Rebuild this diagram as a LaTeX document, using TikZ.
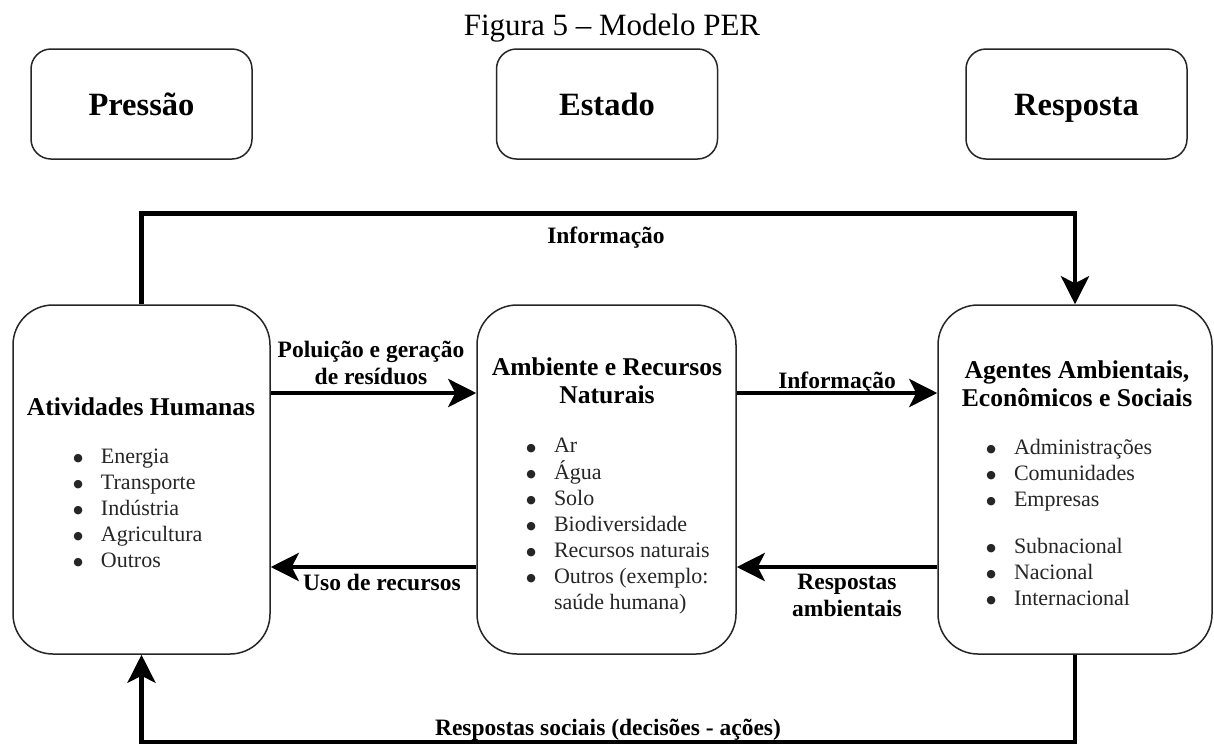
\documentclass[tikz,border=0pt]{standalone}
\usepackage{fontspec}
\setmainfont{Liberation Serif}
\newfontfamily\dejavu{DejaVu Sans}
\usetikzlibrary{arrows.meta}
\newcommand\myfs[2]{\fontsize{#1}{#2}\selectfont}
\newcommand\mybul{\raisebox{0.9pt}{\dejavu\fontsize{5.5}{6}\selectfont ●}}
\begin{document}
\begin{tikzpicture}[x=0.5pt,y=-0.5pt,
  figtitle/.style={font=\myfs{15.5}{18}, inner sep=0pt},
  topbox/.style={draw=black!85, line width=0.75pt, rounded corners=10pt, minimum width=110.5pt, minimum height=55pt, inner sep=0pt, text height=11pt, text depth=0pt, font=\myfs{16.25}{19}\bfseries},
  bigbox/.style={draw=black!85, line width=0.75pt, rounded corners=20pt, minimum height=174.5pt, inner sep=0pt},
  btitle/.style={font=\myfs{12.8}{14}\bfseries, align=center, inner sep=0pt},
  blist/.style={font=\myfs{11}{13}, anchor=west, inner sep=0pt, text=black!85},
  elabel/.style={font=\myfs{11.75}{13.5}\bfseries, align=center, inner sep=0pt},
  conn/.style={line width=2.25pt, -{Stealth[length=14pt,width=14pt,inset=3.5pt]}}
]
\fill[white] (0,0) rectangle (1214,745);
\useasboundingbox (0,0) rectangle (1214,745);

% title
\node[figtitle, anchor=base] (title) at (612,35) {Figura 5 – Modelo PER};

% top boxes
\node[topbox] (P) at (141.5,104) {Pressão};
\node[topbox] (E) at (607,104) {Estado};
\node[topbox] (Rp) at (1076.5,104) {Resposta};

% big boxes
\node[bigbox, minimum width=128.5pt] (L) at (141.5,479.5) {};
\node[bigbox, minimum width=129.5pt] (M) at (606.5,479.5) {};
\node[bigbox, minimum width=137pt] (R) at (1075,479.5) {};

% box titles
\node[btitle] (Lt) at (141,407) {Atividades Humanas};
\node[btitle] (Mt) at (607,381) {Ambiente e Recursos\\Naturais};
\node[btitle] (Rt) at (1077,384) {Agentes Ambientais,\\Econômicos e Sociais};

% lists
\node[blist] (Ll) at (73,510) {\begin{tabular}{@{}l@{\hspace{9pt}}l@{}}
\mybul & Energia\\
\mybul & Transporte\\
\mybul & Indústria\\
\mybul & Agricultura\\
\mybul & Outros
\end{tabular}};
\node[blist] (Ml) at (526,526) {\begin{tabular}{@{}l@{\hspace{9pt}}l@{}}
\mybul & Ar\\
\mybul & Água\\
\mybul & Solo\\
\mybul & Biodiversidade\\
\mybul & Recursos naturais\\
\mybul & Outros (exemplo:\\
 & saúde humana)
\end{tabular}};
\node[blist] (Rl) at (986,525) {\begin{tabular}{@{}l@{\hspace{9pt}}l@{}}
\mybul & Administrações\\
\mybul & Comunidades\\
\mybul & Empresas\\[10.5pt]
\mybul & Subnacional\\
\mybul & Nacional\\
\mybul & Internacional
\end{tabular}};

% connectors
\coordinate (y1) at (0,393);
\coordinate (y2) at (0,567);
\draw[conn] (L.east |- y1) -- (M.west |- y1);
\draw[conn] (M.west |- y2) -- (L.east |- y2);
\draw[conn] (M.east |- y1) -- (R.west |- y1);
\draw[conn] (R.west |- y2) -- (M.east |- y2);
\draw[conn] (L.north) -- ++(0,-91) -| (R.north);
\draw[conn] (R.south) -- ++(0,87) -| (L.south);

% edge labels
\node[elabel] (l1) at (371,362.5) {Poluição e geração\\de resíduos};
\node[elabel] (l2) at (382,582) {Uso de recursos};
\node[elabel, text height=8.5pt, text depth=0pt] (l3) at (837,380) {Informação};
\node[elabel] (l4) at (847,595) {Respostas\\ambientais};
\node[elabel, text height=8.5pt, text depth=0pt] (l5) at (606,235) {Informação};
\node[elabel, anchor=base] (l6) at (608,735) {Respostas sociais (decisões - ações)};
\end{tikzpicture}
\end{document}
